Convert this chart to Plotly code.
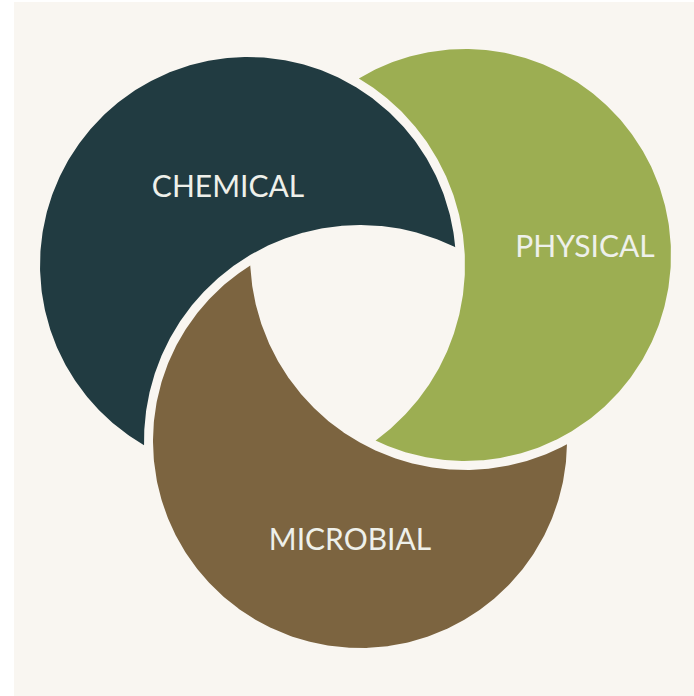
import numpy as np
import plotly.graph_objects as go

# Diagram data
labels = ["CHEMICAL", "PHYSICAL", "MICROBIAL"]
center_x = [248, 465, 360]
center_y = [265, 255, 441]
radius = [208, 206, 207]
# each circle is cut by the next one in this order
cut_by = [2, 0, 1]
label_x = [228, 585, 350]
label_y = [189, 249, 542]
colors = ["#213b41", "#9cae52", "#7c6440"]
GAP = 9

W, H = 694, 696


def crescent(i, j, gap):
    ax, ay, ra = center_x[i], center_y[i], radius[i]
    bx, by, rb = center_x[j], center_y[j], radius[j] + gap
    dx, dy = bx - ax, by - ay
    d = np.hypot(dx, dy)
    phi = np.arctan2(dy, dx)
    alpha = np.arccos((ra**2 + d**2 - rb**2) / (2 * ra * d))
    psi = phi + np.pi
    beta = np.arccos((rb**2 + d**2 - ra**2) / (2 * rb * d))
    t1 = np.linspace(phi + alpha, phi + 2 * np.pi - alpha, 400)
    t2 = np.linspace(psi + beta, psi - beta, 300)
    xs = np.concatenate([ax + ra * np.cos(t1), bx + rb * np.cos(t2)])
    ys = np.concatenate([ay + ra * np.sin(t1), by + rb * np.sin(t2)])
    return np.append(xs, xs[0]), np.append(ys, ys[0])


fig = go.Figure()
for i in range(3):
    xs, ys = crescent(i, cut_by[i], GAP)
    fig.add_trace(go.Scatter(x=xs, y=ys, mode="lines", fill="toself",
                             fillcolor=colors[i], line=dict(width=0, color=colors[i]),
                             hoverinfo="skip", showlegend=False))

fig.add_trace(go.Scatter(x=label_x, y=label_y, mode="text", text=labels,
                         textfont=dict(family="Lato", size=30, color="#eef0ea", weight=400),
                         hoverinfo="skip", showlegend=False))

fig.update_layout(
    width=W, height=H, margin=dict(l=0, r=0, t=0, b=0),
    paper_bgcolor="#ffffff", plot_bgcolor="rgba(0,0,0,0)",
    xaxis=dict(range=[0, W], visible=False, fixedrange=True),
    yaxis=dict(range=[H, 0], visible=False, fixedrange=True),
    shapes=[dict(type="rect", xref="x", yref="y", x0=14, x1=W, y0=2, y1=H,
                 fillcolor="#f9f6f1", line=dict(width=0), layer="below")],
)

fig.write_html("out.html", config={"displayModeBar": False},
               post_script="document.body.style.margin='0';document.body.style.overflow='hidden';")
